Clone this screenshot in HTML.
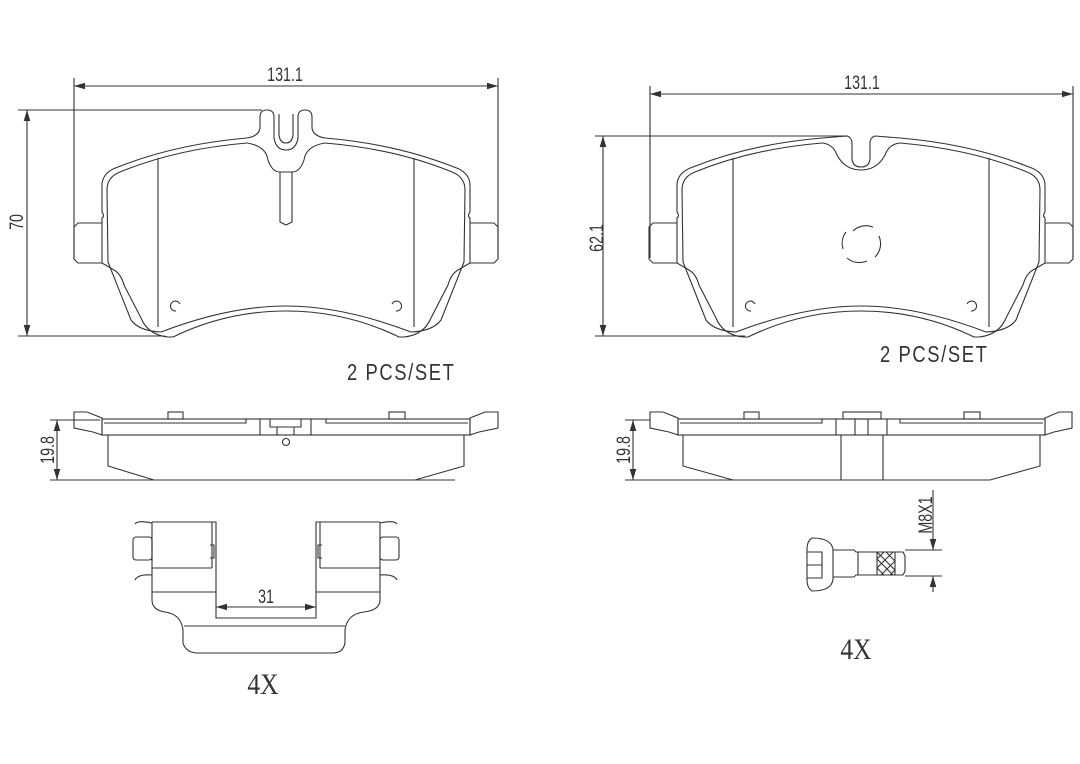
<!DOCTYPE html>
<html><head><meta charset="utf-8"><style>
html,body{margin:0;padding:0;background:#fff}
svg{display:block}
text{font-family:"Liberation Sans",sans-serif;fill:#333}
</style></head><body>
<svg width="1080" height="764" viewBox="0 0 1080 764" xmlns="http://www.w3.org/2000/svg">
<defs>
<marker id="a" viewBox="0 0 10 6" refX="10" refY="3" markerWidth="10" markerHeight="6" orient="auto-start-reverse"><path d="M0,0 L10,3 L0,6 z" fill="#333"/></marker>
<g id="half">
  <path d="M-212,227 L-208,223 L-184,223 L-184,263 L-208,263 L-212,259 Z"/>
  <path d="M-184,223 L-184,218 Q-181,216 -184,212 L-184,184 Q-183,172 -168,167 Q-110,144 -39,138"/>
  <path d="M-184,263 L-172,270 Q-165,274 -162,285 L-145,318 Q-138,335 -118,337 L-113,337 C-70,316 -30,311 0,311"/>
  <path d="M-39,143 Q-110,149 -166,172 Q-179,177 -179,190 L-178,262 L-155,320 Q-147,331 -125,332 C-70,311 -30,306 0,306"/>
  <path d="M-128,158 L-128,327"/>
  <path d="M-106,304 A5,5 0 1,0 -110,311"/>
</g>
</defs>
<g fill="none" stroke="#333" stroke-width="1.1">
<!-- LEFT PAD -->
<line x1="74" y1="78" x2="74" y2="258"/><line x1="498" y1="78" x2="498" y2="258"/>
<line x1="74" y1="86" x2="498" y2="86" marker-start="url(#a)" marker-end="url(#a)"/>
<line x1="18" y1="110" x2="262" y2="110"/><line x1="18" y1="336" x2="165" y2="336"/>
<line x1="27" y1="110" x2="27" y2="336" marker-start="url(#a)" marker-end="url(#a)"/>
<g transform="translate(286,0)"><use href="#half"/><use href="#half" transform="scale(-1,1)"/>
  <path d="M-39,138 Q-27,136 -26,128 L-26,117 Q-26,110 -19,110 Q-12,110 -12,117 L-12,138 Q-10,150 0,150 Q10,150 12,138 L12,117 Q12,110 19,110 Q26,110 26,117 L26,128 Q27,136 39,138"/>
  <path d="M-7,114 L-7,135 Q-6,143 0,143 Q6,143 7,135 L7,114"/>
  <path d="M-39,143 Q-20,146 -18,160 Q-14,172 -6,172 L6,172 Q14,172 18,160 Q20,146 39,143"/>
  <path d="M-6,172 L-6,222 L0,225 L6,222 L6,172"/>
</g>
<!-- RIGHT PAD -->
<line x1="650" y1="86" x2="650" y2="258"/><line x1="1073" y1="86" x2="1073" y2="258"/>
<line x1="650" y1="94" x2="1073" y2="94" marker-start="url(#a)" marker-end="url(#a)"/>
<line x1="595" y1="136" x2="848" y2="136"/><line x1="595" y1="336" x2="745" y2="336"/>
<line x1="603" y1="136" x2="603" y2="336" marker-start="url(#a)" marker-end="url(#a)"/>
<g transform="translate(861,0)"><use href="#half"/><use href="#half" transform="scale(-1,1)"/>
  <path d="M-39,138 L-14,136 Q-10,137 -9,142 L-9,159 Q-8,167 0,167 Q8,167 9,159 L9,142 Q10,137 14,136 L39,138"/>
  <path d="M-39,143 Q-28,144 -24,155 Q-16,170 0,170 Q16,170 24,155 Q28,144 39,143"/>
  <path d="M-8,231 A19,19 0 0,1 12,227 M18,236 A19,19 0 0,1 14,257 M6,261 A19,19 0 0,1 -14,258 M-18,249 A19,19 0 0,1 -15,232"/>
</g>
<!-- LEFT SIDE VIEW -->
<line x1="50" y1="420" x2="100" y2="420"/><line x1="50" y1="480" x2="455" y2="480"/>
<line x1="57" y1="420" x2="57" y2="480" marker-start="url(#a)" marker-end="url(#a)"/>
<path d="M74,412 L87,412 L102,418 L102,435 L93,432 L74,428 Z"/>
<path d="M498,412 L485,412 L470,418 L470,435 L479,432 L498,428 Z"/>
<rect x="102" y="419" width="368" height="16"/>
<path d="M104,423 L246,423 L246,419 M468,423 L326,423 L326,419"/>
<rect x="168" y="412" width="15" height="7"/><rect x="389" y="412" width="16" height="7"/>
<path d="M260,419 L260,435 M311,419 L311,435 M270,419 L270,427 L301,427 L301,419 M277,427 L277,435 M294,427 L294,435"/>
<circle cx="286" cy="442" r="3.5"/>
<path d="M108,435 L108,466 L154,480 L415,480 L464,466 L464,435"/>
<!-- RIGHT SIDE VIEW -->
<line x1="625" y1="420" x2="650" y2="420"/><line x1="625" y1="480" x2="735" y2="480"/>
<line x1="633" y1="420" x2="633" y2="480" marker-start="url(#a)" marker-end="url(#a)"/>
<path d="M650,412 L663,412 L678,418 L678,435 L669,432 L650,428 Z"/>
<path d="M1072,412 L1059,412 L1045,418 L1045,435 L1054,432 L1072,428 Z"/>
<rect x="678" y="419" width="367" height="16"/>
<path d="M680,423 L822,423 L822,419 M1043,423 L900,423 L900,419"/>
<rect x="744" y="412" width="15" height="7"/><rect x="964" y="412" width="16" height="7"/>
<rect x="843" y="412" width="38" height="7"/>
<path d="M836,419 L836,435 M887,419 L887,435 M855,419 L855,435 M868,419 L868,435 M841,435 L841,480 M883,435 L883,480"/>
<path d="M683,435 L683,466 L733,480 L990,480 L1040,466 L1040,435"/>
<!-- CLIP -->
<path d="M152,522 L152,600 Q152,610 165,612 Q181,614 183,630 L183,643 Q186,653 198,653 L333,653 Q343,653 345,643 L345,630 Q347,614 364,612 Q380,610 380,600 L380,522"/>
<path d="M152,522 L216,522 L216,618 L316,618 L316,522 L380,522"/>
<path d="M152,568 L212,568 M320,568 L380,568 M152,592 L216,592 M316,592 L380,592 M184,626 L345,626"/>
<path d="M212,522 L212,568 M320,522 L320,568 M152,539 L152,562"/>
<rect x="133" y="537" width="19" height="23" rx="3"/><rect x="380" y="537" width="19" height="23" rx="3"/>
<path d="M135,524 Q138,520 152,523 M135,580 Q138,574 152,575 M397,524 Q394,520 380,523 M397,580 Q394,574 380,575"/>
<path d="M210,545 L214,545 L214,558 L210,558 M322,545 L318,545 L318,558 L322,558"/>
<line x1="216" y1="607" x2="316" y2="607" marker-start="url(#a)" marker-end="url(#a)"/>
<!-- BOLT -->
<path d="M812,538 Q832,538 833,550 L833,579 Q832,591 812,591 Q807,588 807,580 L807,549 Q807,541 812,538 Z"/>
<path d="M807,552 L822,552 L822,578 L807,578 M807,565 L822,565"/>
<path d="M833,550 L854,550 L856,552 L903,552 L905,556 L905,571 L903,575 L856,575 L854,577 L833,577"/>
<path d="M858,552 L858,575 M877,552 L877,575 M895,552 L895,575"/>
<path d="M877,559 L884,552 M877,568 L893,552 M881,575 L895,561 M890,575 L895,570 M884,575 L877,568 M893,575 L877,559 M895,570 L877,552 M895,561 L886,552"/>
<line x1="905" y1="550" x2="942" y2="550"/><line x1="905" y1="576" x2="942" y2="576"/>
<line x1="933" y1="490" x2="933" y2="550" marker-end="url(#a)"/>
<line x1="933" y1="592" x2="933" y2="576" marker-end="url(#a)"/>
</g>
<g font-size="19">
<text transform="translate(285,81) scale(0.75,1)" text-anchor="middle">131.1</text>
<text transform="translate(862,89) scale(0.75,1)" text-anchor="middle">131.1</text>
<text transform="translate(23,222) rotate(-90) scale(0.75,1)" text-anchor="middle">70</text>
<text transform="translate(603,238) rotate(-90) scale(0.75,1)" text-anchor="middle">62.1</text>
<text transform="translate(54,450) rotate(-90) scale(0.75,1)" text-anchor="middle">19.8</text>
<text transform="translate(630,450) rotate(-90) scale(0.75,1)" text-anchor="middle">19.8</text>
<text transform="translate(266,603) scale(0.75,1)" text-anchor="middle">31</text>
<text transform="translate(932,515) rotate(-90) scale(0.75,1)" text-anchor="middle">M8X1</text>
</g>
<g font-size="23" letter-spacing="2">
<text transform="translate(347,380) scale(0.8,1)">2  PCS/SET</text>
<text transform="translate(880,362) scale(0.8,1)">2  PCS/SET</text>
</g>
<text transform="translate(263,694) scale(0.85,1)" text-anchor="middle" font-size="30" style="font-family:'Liberation Serif',serif">4X</text>
<text transform="translate(856,659) scale(0.85,1)" text-anchor="middle" font-size="30" style="font-family:'Liberation Serif',serif">4X</text>
</svg>
</body></html>
